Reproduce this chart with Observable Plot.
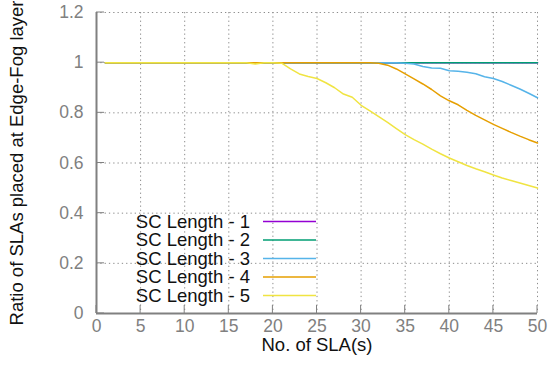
<!DOCTYPE html>
<html>
<head>
<meta charset="utf-8">
<script src="https://cdn.jsdelivr.net/npm/d3@7"></script>
<script src="https://cdn.jsdelivr.net/npm/@observablehq/plot@0.6"></script>
<style>
  html, body { margin: 0; padding: 0; background: #fff; }
  #chart { width: 550px; height: 378px; }
</style>
</head>
<body>
<div id="chart"></div>
<script>
// ---- data ----
const xValues = d3.range(1, 51);
const seriesNames = ["SC Length - 1", "SC Length - 2", "SC Length - 3", "SC Length - 4", "SC Length - 5"];
const seriesColors = ["#9400d3", "#009e73", "#56b4e9", "#e69f00", "#f0e442"];

const sc1 = [1,1,1,1,1,1,1,1,1,1, 1,1,1,1,1,1,1,1,1,1, 1,1,1,1,1,1,1,1,1,1, 1,1,1,1,1,1,1,1,1,1, 1,1,1,1,1,1,1,1,1,1];
const sc2 = [1,1,1,1,1,1,1,1,1,1, 1,1,1,1,1,1,1,1,1,1, 1,1,1,1,1,1,1,1,1,1, 1,1,1,1,1,1,1,1,1,1, 1,1,1,1,1,1,1,1,1,1];
const sc3 = [1,1,1,1,1,1,1,1,1,1, 1,1,1,1,1,1,1,1,1,1, 1,1,1,1,1,1,1,1,1,1, 1,1,1,1,0.998,0.995,0.985,0.979,0.978,0.968,
             0.966,0.962,0.956,0.944,0.937,0.925,0.91,0.895,0.878,0.86];
const sc4 = [1,1,1,1,1,1,1,1,1,1, 1,1,1,1,1,1,1,1,1,1, 1,1,1,1,1,1,1,1,1,1, 1,0.998,0.99,0.975,0.955,0.935,0.915,0.893,0.868,0.848,
             0.832,0.81,0.79,0.772,0.754,0.738,0.722,0.707,0.693,0.68];
const sc5 = [1,1,1,1,1,1,1,1,1,1, 1,1,1,1,1,1,1,0.995,1,1, 0.998,0.975,0.955,0.945,0.937,0.92,0.9,0.875,0.862,0.83,
             0.808,0.785,0.762,0.737,0.713,0.693,0.675,0.655,0.637,0.62, 0.605,0.59,0.577,0.565,0.552,0.54,0.53,0.52,0.51,0.5];

const xTicks = [0,5,10,15,20,25,30,35,40,45,50];
const yTicks = [0,0.2,0.4,0.6,0.8,1,1.2];
const xTitle = "No. of SLA(s)";
const yTitle = "Ratio of SLAs placed at Edge-Fog layer";

// ---- build table ----
const allSeries = [sc1, sc2, sc3, sc4, sc5];
const rows = [];
allSeries.forEach((vals, i) => {
  vals.forEach((v, j) => rows.push({x: xValues[j], y: v, series: seriesNames[i]}));
});

const font = "'Liberation Sans', Arial, Helvetica, sans-serif";
const grey = "#808080";
const ink = "#111";

const plot = Plot.plot({
  width: 550,
  height: 378,
  marginLeft: 96,
  marginRight: 13,
  marginTop: 12,
  marginBottom: 65,
  style: {fontFamily: font, fontSize: "17px", background: "white", overflow: "visible"},
  x: {domain: [0, 50], axis: null},
  y: {domain: [0, 1.2], axis: null},
  color: {domain: seriesNames, range: seriesColors},
  marks: [
    Plot.ruleX(xTicks.filter(d => d > 0), {x: d => d, stroke: "#8c8c8c", strokeWidth: 1, strokeDasharray: "1.3,3"}),
    Plot.ruleY(yTicks.filter(d => d > 0), {y: d => d, stroke: "#8c8c8c", strokeWidth: 1, strokeDasharray: "1.3,3"}),
    Plot.line(rows, {x: "x", y: "y", z: "series", stroke: "series", strokeWidth: 1.5}),
    Plot.ruleX([0], {stroke: grey, strokeWidth: 2}),
    Plot.ruleY([0], {stroke: grey, strokeWidth: 2}),
    Plot.text(yTicks, {y: d => d, text: d => String(d), frameAnchor: "left", textAnchor: "end", dx: -13, fill: grey, fontSize: 17.5}),
    Plot.text(xTicks, {x: d => d, text: d => String(d), frameAnchor: "bottom", dy: 18, fill: grey, fontSize: 17.5}),
    Plot.text([xTitle], {text: d => d, frameAnchor: "bottom", textAnchor: "middle", dy: 37, fill: ink, fontSize: 18.5}),
    Plot.text([yTitle], {text: d => d, frameAnchor: "left", textAnchor: "middle", dx: -79, rotate: -90, fill: ink, fontSize: 18.5})
  ]
});

// inner tick marks and legend
const svg = d3.select(plot);
const sx = plot.scale("x"), sy = plot.scale("y");
const x0 = sx.apply(0), y0 = sy.apply(0);
const g = svg.append("g");
yTicks.forEach(v => {
  g.append("line").attr("x1", x0).attr("x2", x0 + 8).attr("y1", sy.apply(v)).attr("y2", sy.apply(v))
    .attr("stroke", grey).attr("stroke-width", 1);
});
xTicks.forEach(v => {
  g.append("line").attr("x1", sx.apply(v)).attr("x2", sx.apply(v)).attr("y1", y0).attr("y2", y0 - 8)
    .attr("stroke", grey).attr("stroke-width", 1);
});

const lg = svg.append("g").attr("font-family", font).attr("font-size", 18.5);
seriesNames.forEach((name, i) => {
  const yy = 221.5 + i * 18.5;
  lg.append("text").attr("x", 250).attr("y", yy).attr("dy", "0.35em").attr("text-anchor", "end")
    .attr("fill", ink).text(name);
  lg.append("line").attr("x1", 263).attr("x2", 316).attr("y1", yy).attr("y2", yy)
    .attr("stroke", seriesColors[i]).attr("stroke-width", 1.5);
});

document.getElementById("chart").appendChild(plot);
</script>
</body>
</html>
